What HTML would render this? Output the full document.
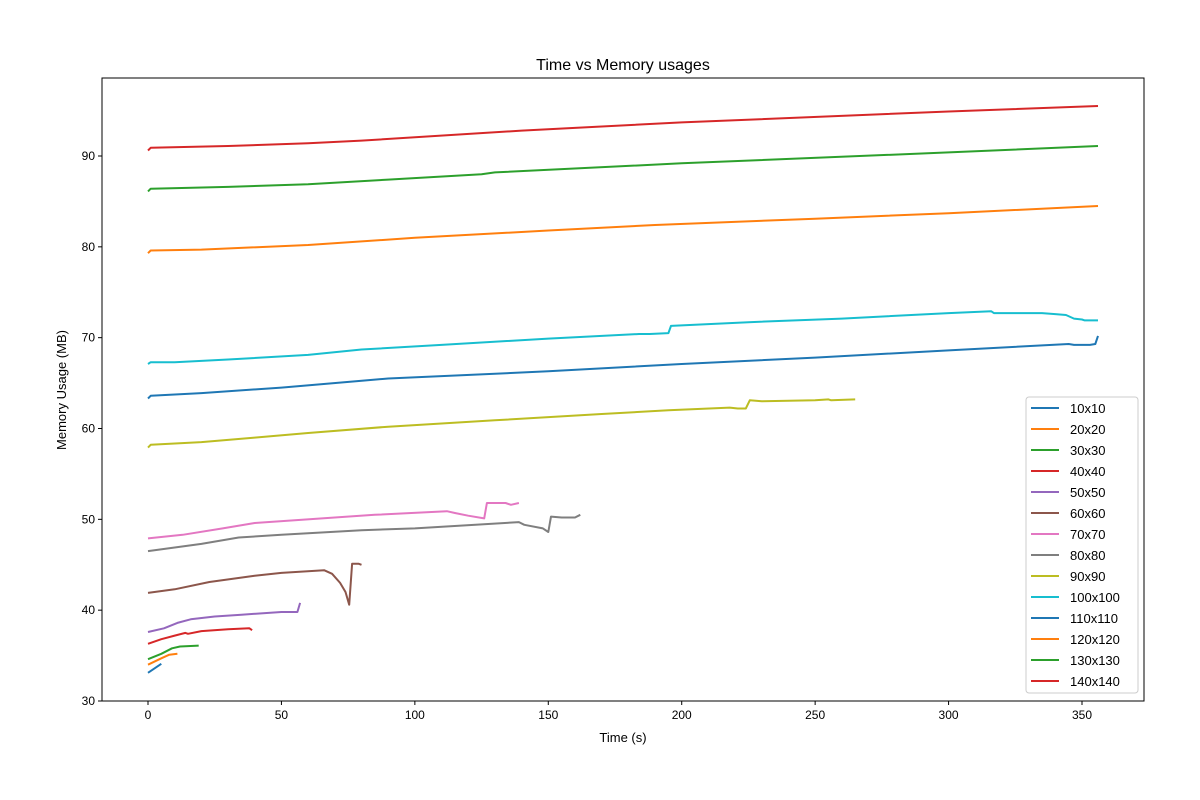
<!DOCTYPE html>
<html><head><meta charset="utf-8"><style>
html,body{margin:0;padding:0;background:#fff;}
svg{display:block;font-family:"Liberation Sans","DejaVu Sans",sans-serif;}
</style></head><body>
<svg id="chart" width="1200" height="800" xmlns="http://www.w3.org/2000/svg"></svg>
<script>
const seriesNames = ["10x10","20x20","30x30","40x40","50x50","60x60","70x70","80x80","90x90","100x100","110x110","120x120","130x130","140x140"];
const seriesColors = ["#1f77b4","#ff7f0e","#2ca02c","#d62728","#9467bd","#8c564b","#e377c2","#7f7f7f","#bcbd22","#17becf","#1f77b4","#ff7f0e","#2ca02c","#d62728"];
const s10x10 = [[0,33.1],[5,34.1]];
const s20x20 = [[0,34.0],[5,34.7],[8,35.1],[11,35.2]];
const s30x30 = [[0,34.6],[5,35.2],[9,35.8],[12,36.0],[19,36.1]];
const s40x40 = [[0,36.3],[5,36.8],[10,37.2],[14,37.5],[15,37.4],[20,37.7],[30,37.9],[38,38.0],[39,37.8]];
const s50x50 = [[0,37.6],[6,38.0],[11,38.6],[16,39.0],[25,39.3],[35,39.5],[50,39.8],[56,39.8],[57,40.8]];
const s60x60 = [[0,41.9],[10,42.3],[23,43.1],[40,43.8],[50,44.1],[66,44.4],[69,44.0],[72,43.0],[74,42.0],[75.4,40.6],[76.5,45.1],[79,45.1],[80,45.0]];
const s70x70 = [[0,47.9],[13,48.3],[28,49.0],[40,49.6],[55,49.9],[85,50.5],[112,50.9],[115,50.7],[120,50.4],[126,50.1],[127,51.8],[134,51.8],[136,51.6],[139,51.8]];
const s80x80 = [[0,46.5],[10,46.9],[20,47.3],[34,48.0],[50,48.3],[80,48.8],[100,49.0],[139,49.7],[141,49.4],[148,49.0],[150,48.6],[151,50.3],[155,50.2],[160,50.2],[162,50.5]];
const s90x90 = [[0,57.9],[1,58.2],[20,58.5],[40,59.0],[60,59.5],[90,60.2],[130,60.9],[170,61.6],[195,62.0],[218,62.3],[221,62.2],[224,62.2],[225.5,63.1],[230,63.0],[250,63.1],[255,63.2],[256,63.1],[265,63.2]];
const s100x100 = [[0,67.1],[1,67.3],[10,67.3],[30,67.6],[60,68.1],[80,68.7],[110,69.2],[150,69.9],[184,70.4],[188,70.4],[195,70.5],[196,71.3],[225,71.7],[260,72.1],[300,72.7],[316,72.9],[317,72.7],[335,72.7],[340,72.6],[344,72.5],[347,72.1],[350,72.0],[351,71.9],[356,71.9]];
const s110x110 = [[0,63.3],[1,63.6],[20,63.9],[50,64.5],[90,65.5],[150,66.3],[200,67.1],[250,67.8],[300,68.6],[345,69.3],[347,69.2],[353,69.2],[355,69.3],[356,70.2]];
const s120x120 = [[0,79.3],[1,79.6],[20,79.7],[60,80.2],[100,81.0],[150,81.8],[190,82.4],[250,83.1],[300,83.7],[356,84.5]];
const s130x130 = [[0,86.1],[1,86.4],[30,86.6],[60,86.9],[90,87.4],[125,88.0],[130,88.2],[200,89.2],[300,90.4],[356,91.1]];
const s140x140 = [[0,90.6],[1,90.9],[30,91.1],[60,91.4],[80,91.7],[140,92.8],[200,93.7],[300,94.9],[356,95.5]];
const seriesData = [s10x10,s20x20,s30x30,s40x40,s50x50,s60x60,s70x70,s80x80,s90x90,s100x100,s110x110,s120x120,s130x130,s140x140];
const xTicks = [0,50,100,150,200,250,300,350];
const yTicks = [30,40,50,60,70,80,90];

const NS="http://www.w3.org/2000/svg";
const svg=document.getElementById('chart');
const L=102,R=1144,T=78,B=701;
const xs=v=>148+v*(1082-148)/350;
const ys=v=>701-(v-30)*(701-156)/60;
function mk(tag,attrs,parent){const e=document.createElementNS(NS,tag);for(const k in attrs)e.setAttribute(k,attrs[k]);(parent||svg).appendChild(e);return e;}

seriesData.forEach((d,i)=>{
  const p=mk('polyline',{points:d.map(q=>xs(q[0]).toFixed(1)+','+ys(q[1]).toFixed(1)).join(' '),fill:'none',stroke:seriesColors[i],'stroke-width':2,'stroke-linejoin':'round'});
  
  
});
const frame=mk('rect',{x:L,y:T,width:R-L,height:B-T,fill:'none',stroke:'#000','stroke-width':1});


xTicks.forEach(t=>{
  const x=xs(t);
  mk('line',{x1:x,x2:x,y1:B,y2:B+4,stroke:'#000'});
  const tx=mk('text',{x:x,y:B+18,'text-anchor':'middle','font-size':12});
  tx.textContent=t;
  
  
});
yTicks.forEach(t=>{
  const y=ys(t);
  mk('line',{x1:L-4,x2:L,y1:y,y2:y,stroke:'#000'});
  const tx=mk('text',{x:L-7,y:y+4,'text-anchor':'end','font-size':12});
  tx.textContent=t;
  
  
});
const title=mk('text',{x:623,y:70,'text-anchor':'middle','font-size':16});
title.textContent='Time vs Memory usages';


const xl=mk('text',{x:623,y:742,'text-anchor':'middle','font-size':13});
xl.textContent='Time (s)';


const yl=mk('text',{x:0,y:0,'text-anchor':'middle','font-size':13,transform:'translate(66,390) rotate(-90)'});
yl.textContent='Memory Usage (MB)';


const lg=mk('g',{});


mk('rect',{x:1026,y:397,width:112,height:296,rx:3,fill:'#fff',stroke:'#ccc'},lg);
seriesNames.forEach((n,i)=>{
  const y=408+i*21;
  const g=mk('g',{},lg);
  
  
  mk('line',{x1:1031,x2:1059,y1:y,y2:y,stroke:seriesColors[i],'stroke-width':2},g);
  const t=mk('text',{x:1070,y:y+5,'font-size':13},g);
  t.textContent=n;
});
</script>
</body></html>
